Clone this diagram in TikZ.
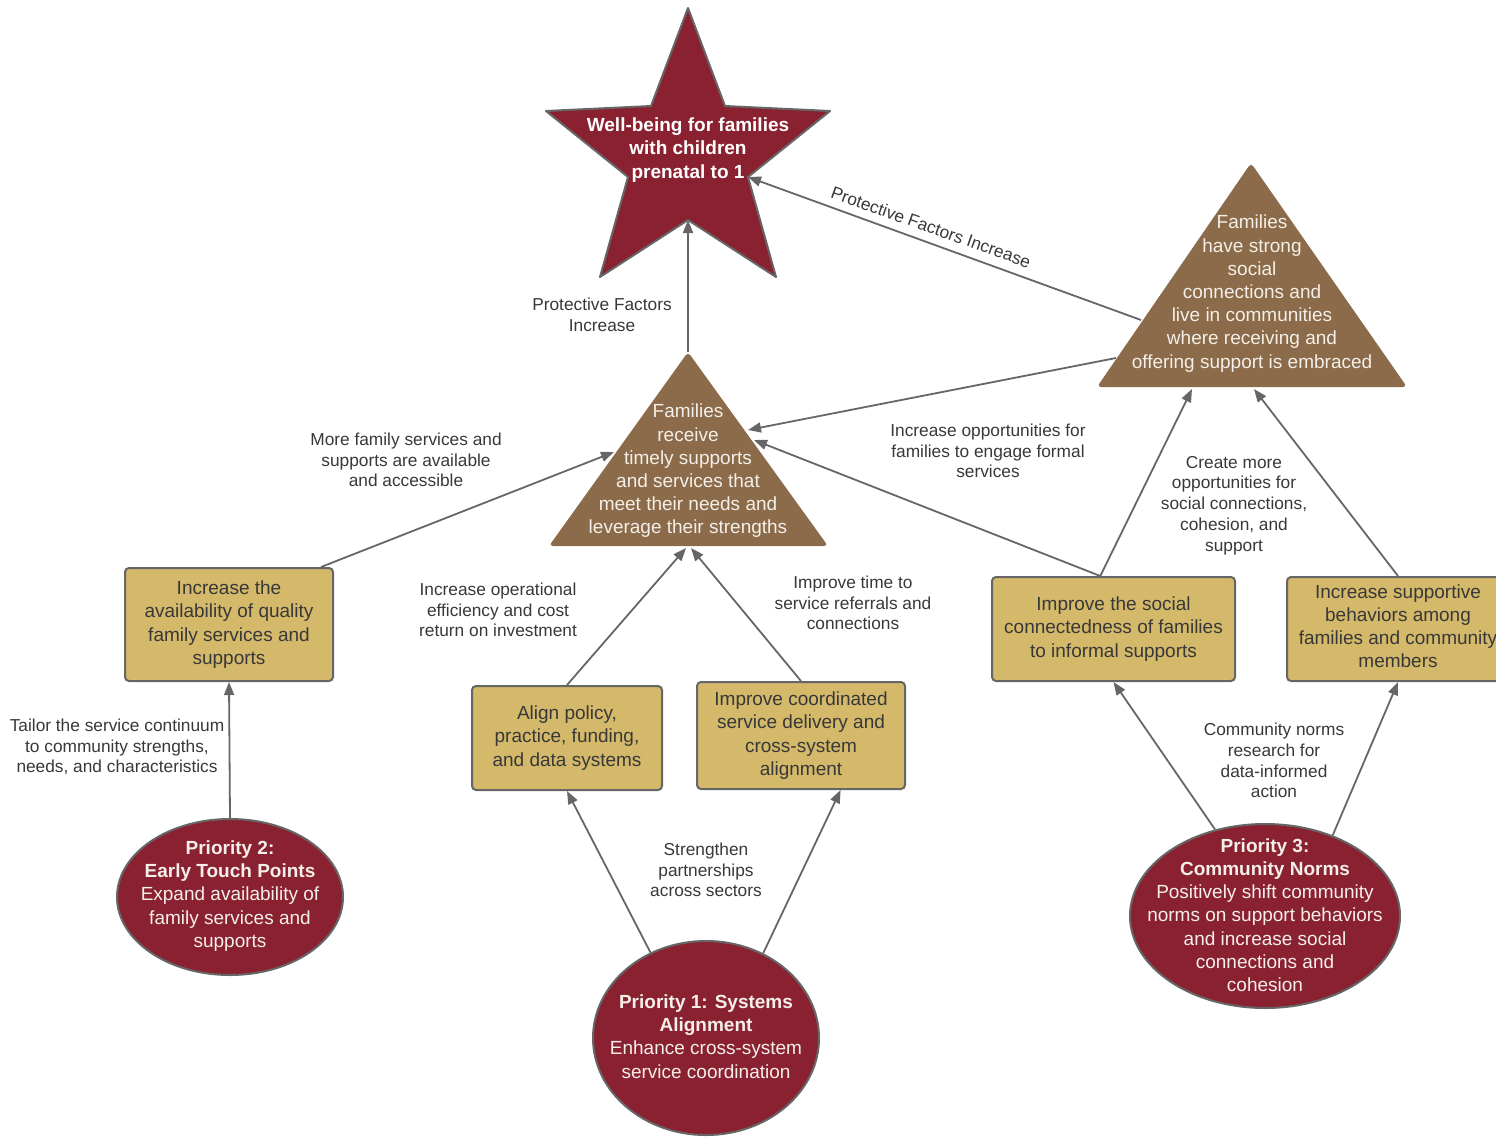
\documentclass[tikz,border=0pt]{standalone}
\usepackage{fontspec}
\setmainfont{Liberation Sans}
\usetikzlibrary{shapes.geometric,arrows.meta,calc}
\definecolor{maroon}{HTML}{8A2131}
\definecolor{brownT}{HTML}{8B6B4A}
\definecolor{boxfill}{HTML}{D4B96B}
\definecolor{edgegray}{HTML}{666666}
\definecolor{txtdark}{HTML}{383838}
\definecolor{txtlight}{HTML}{F4EFE8}
\tikzset{
  bigtxt/.style={font=\fontsize{19}{23.2}\selectfont, align=center, inner sep=0pt},
  labtxt/.style={font=\fontsize{17.3}{20.8}\selectfont, align=center, inner sep=0pt, text=txtdark},
  boxnode/.style={draw=edgegray, line width=2pt, fill=boxfill, rounded corners=4pt, bigtxt, text=txtdark},
  prio/.style={ellipse, draw=edgegray, line width=2pt, fill=maroon, inner sep=0pt},
  conn/.style={draw=edgegray, line width=1.8pt, -{Triangle[length=13pt,width=10pt]}},
}
\begin{document}
\begin{tikzpicture}[x=1pt,y=-1pt]
\useasboundingbox (0,0) rectangle (1496,1141);
% ---- star ----
\coordinate (sTop) at (688,8);
\coordinate (sIUR) at (725,106);
\coordinate (sRight) at (830,111);
\coordinate (sIR) at (748,177);
\coordinate (sBR) at (776,277);
\coordinate (sIB) at (688,220);
\coordinate (sBL) at (600,277);
\coordinate (sIL) at (628,177);
\coordinate (sLeft) at (546,111);
\coordinate (sIUL) at (651,106);
\draw[draw=edgegray, line width=2pt, fill=maroon, line join=round]
  (sTop) -- (sIUR) -- (sRight) -- (sIR) -- (sBR) -- (sIB) -- (sBL) -- (sIL) -- (sLeft) -- (sIUL) -- cycle;
\node[bigtxt, text=white, font=\fontsize{19}{23.2}\selectfont\bfseries] (star) at (688,150)
  {Well-being for families\\with children\\prenatal to 1};
% ---- triangles ----
\coordinate (t1A) at (688,352);
\coordinate (t1L) at (549,546);
\coordinate (t1R) at (828,546);
\fill[brownT, rounded corners=4pt] (t1A) -- (t1R) -- (t1L) -- cycle;
\node[bigtxt, text=txtlight] (t1) at (688,471)
  {Families\\receive\\timely supports\\and services that\\meet their needs and\\leverage their strengths};
\coordinate (t2A) at (1251,163);
\coordinate (t2L) at (1097,387);
\coordinate (t2R) at (1407,387);
\fill[brownT, rounded corners=4pt] (t2A) -- (t2R) -- (t2L) -- cycle;
\node[bigtxt, text=txtlight] (t2) at (1252,293.5)
  {Families\\have strong\\social\\connections and\\live in communities\\where receiving and\\offering support is embraced};
% ports on triangles
\coordinate (t1top) at (688,352);
\coordinate (t1inA) at (614,452);
\coordinate (t1inR1) at (748,430);
\coordinate (t1inR2) at (754,440);
\coordinate (t1inB1) at (686,548);
\coordinate (t1inB2) at (691,548);
\coordinate (t2out1) at (1141,320);
\coordinate (t2out2) at (1116,358);
\coordinate (t2inB1) at (1192,389);
\coordinate (t2inB2) at (1254,389);
% ---- boxes ----
\node[boxnode, minimum width=208pt, minimum height=113pt] (bA) at (229,624.5)
  {Increase the\\availability of quality\\family services and\\supports};
\node[boxnode, minimum width=190pt, minimum height=104pt] (bB) at (567,738)
  {Align policy,\\practice, funding,\\and data systems};
\node[boxnode, minimum width=208pt, minimum height=107pt] (bC) at (801,735.5)
  {Improve coordinated\\service delivery and\\cross-system\\alignment};
\node[boxnode, minimum width=243pt, minimum height=104pt] (bD) at (1113.5,629)
  {Improve the social\\connectedness of families\\to informal supports};
\node[boxnode, minimum width=222pt, minimum height=104pt] (bE) at (1398,629) {};
\node[bigtxt, text=txtdark] (bEt) at (1398,626)
  {Increase supportive\\behaviors among\\families and community\\members};
% ---- priority ellipses ----
\node[prio, minimum width=226pt, minimum height=156pt] (p2) at (230,897) {};
\node[bigtxt, text=txtlight] (p2t) at (230,896)
  {\textbf{Priority 2:}\\\textbf{Early Touch Points}\\Expand availability of\\family services and\\supports};
\node[prio, minimum width=226pt, minimum height=194pt] (p1) at (706,1038) {};
\node[bigtxt, text=txtlight] (p1t) at (706,1036.5)
  {\textbf{Priority 1: Systems}\\\textbf{Alignment}\\Enhance cross-system\\service coordination};
\node[prio, minimum width=270pt, minimum height=184pt] (p3) at (1265,916) {};
\node[bigtxt, text=txtlight] (p3t) at (1265,915)
  {\textbf{Priority 3:}\\\textbf{Community Norms}\\Positively shift community\\norms on support behaviors\\and increase social\\connections and\\cohesion};
% ---- connectors ----
\draw[conn] (t1top) -- (sIB);
\draw[conn] (t2out1) -- (sIR);
\draw[conn] (t2out2) -- (t1inR1);
\draw[conn] (bA.32) -- (t1inA);
\draw[conn] (bB.north) -- (t1inB1);
\draw[conn] (bC.north) -- (t1inB2);
\draw[conn] (bD.104) -- (t1inR2);
\draw[conn] (bD.104) -- (t2inB1);
\draw[conn] (bE.north) -- (t2inB2);
\draw[conn] (p2.north) -- (bA.south);
\draw[conn] (p1.123) -- (bB.south);
\draw[conn] (p1.56) -- (bC.-54);
\draw[conn] (p3.120) -- (bD.south);
\draw[conn] (p3.50) -- (bE.south);
% ---- labels ----
\node[labtxt] (l1) at (602,315) {Protective Factors\\Increase};
\node[labtxt, rotate=-19.7] (l2) at (931,227) {Protective Factors Increase};
\node[labtxt] (l3) at (406,460) {More family services and\\supports are available\\and accessible};
\node[labtxt] (l4) at (988,451) {Increase opportunities for\\families to engage formal\\services};
\node[labtxt] (l5) at (1234,505.5) {Create more\\opportunities for\\social connections,\\cohesion, and\\support};
\node[labtxt] (l6) at (498,610) {Increase operational\\efficiency and cost\\return on investment};
\node[labtxt] (l7) at (853,603) {Improve time to\\service referrals and\\connections};
\node[labtxt] (l8) at (117,747) {Tailor the service continuum\\to community strengths,\\needs, and characteristics};
\node[labtxt] (l9) at (706,870) {Strengthen\\partnerships\\across sectors};
\node[labtxt] (l10) at (1274,760.5) {Community norms\\research for\\data-informed\\action};
\end{tikzpicture}
\end{document}
